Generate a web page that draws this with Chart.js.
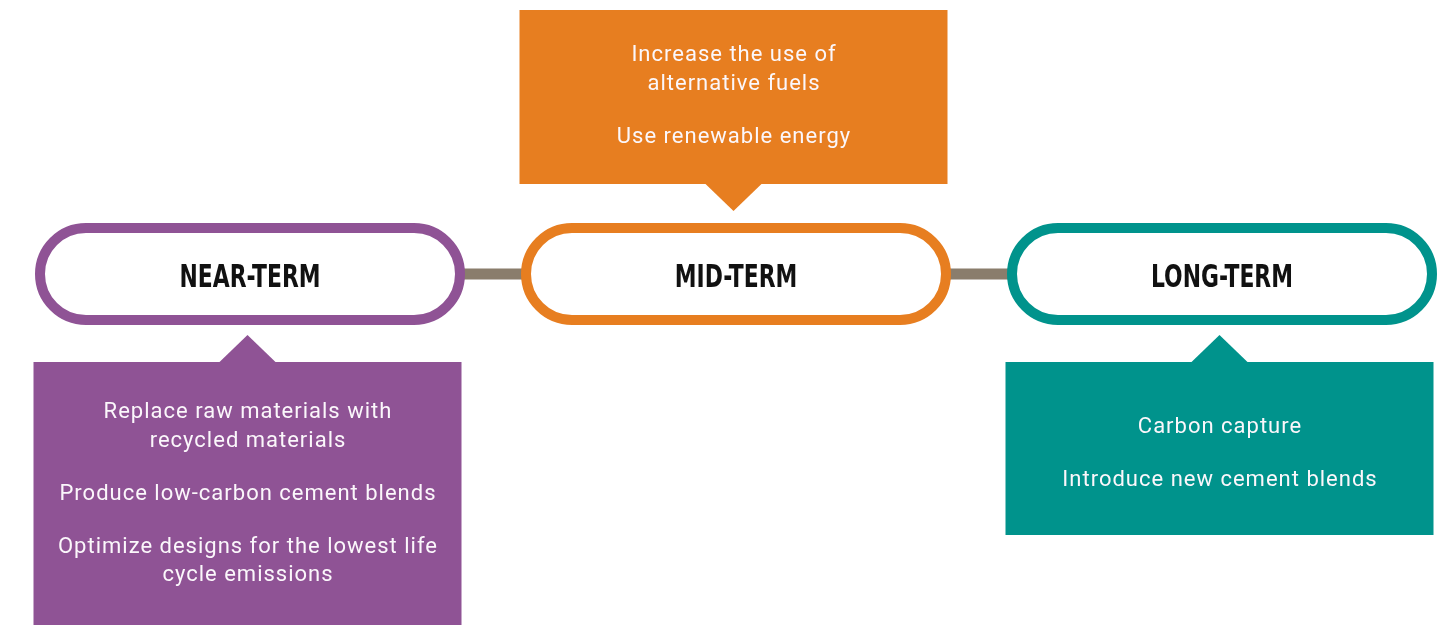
<!DOCTYPE html>
<html>
<head>
<meta charset="utf-8">
<title>Cement decarbonisation timeline</title>
<script src="https://cdn.jsdelivr.net/npm/chart.js@4/dist/chart.umd.min.js"></script>
<style>
  html, body { margin: 0; padding: 0; background: #ffffff; }
  #wrap { width: 1451px; height: 625px; position: relative; }
</style>
</head>
<body>
<div id="wrap"><canvas id="chart"></canvas></div>
<script>
// stages along the timeline
var stages = ['NEAR-TERM', 'MID-TERM', 'LONG-TERM'];
var stagePositions = [0, 1, 2];
var stageColors = ['#8f5395', '#e77e20', '#00938c'];

// actions per stage: paragraphs, each a list of lines
var nearTermActions = [
  ['Replace raw materials with', 'recycled materials'],
  ['Produce low-carbon cement blends'],
  ['Optimize designs for the lowest life', 'cycle emissions']
];
var midTermActions = [
  ['Increase the use of', 'alternative fuels'],
  ['Use renewable energy']
];
var longTermActions = [
  ['Carbon capture'],
  ['Introduce new cement blends']
];
var stageActions = [nearTermActions, midTermActions, longTermActions];
var boxSides = ['below', 'above', 'below'];

// layout (pixels)
var connectorColor = '#8a7d6c';
var pillW = 430, pillH = 102, pillStroke = 10;
var boxW = 428, arrowLen = 27, arrowHalf = 28;
var boxGapBelow = 88, boxGapAbove = 90;
var boxHeights = [268, 174, 173];
var textTops = [56, 51, 71];
var lineStep = 28.5, paraStep = 53;
var labelSqueeze = 0.76;

var timelinePlugin = {
  id: 'timeline',
  afterDatasetsDraw: function (chart) {
    var ctx = chart.ctx;
    var xs = chart.scales.x;
    var ys = chart.scales.y;
    var cy = ys.getPixelForValue(0);

    stages.forEach(function (label, i) {
      var cx = xs.getPixelForValue(stagePositions[i]);
      var color = stageColors[i];

      // pill
      ctx.save();
      ctx.beginPath();
      var h = pillH - pillStroke;
      ctx.roundRect(cx - pillW / 2 + pillStroke / 2, cy - h / 2, pillW - pillStroke, h, h / 2);
      ctx.fillStyle = '#ffffff';
      ctx.fill();
      ctx.lineWidth = pillStroke;
      ctx.strokeStyle = color;
      ctx.stroke();

      // stage label, condensed
      ctx.font = 'bold 32px "Liberation Sans Narrow", "DejaVu Sans Condensed", sans-serif';
      ctx.fillStyle = '#111111';
      ctx.textAlign = 'center';
      ctx.textBaseline = 'alphabetic';
      ctx.translate(cx, cy + 12.5);
      ctx.scale(labelSqueeze, 1);
      ctx.fillText(label, 0, 0);
      ctx.restore();

      // action box with pointer
      var bx = cx - 2.5;
      var bh = boxHeights[i];
      var top, apexY, baseY;
      if (boxSides[i] === 'below') {
        top = cy + boxGapBelow;
        baseY = top;
        apexY = top - arrowLen;
      } else {
        top = cy - boxGapAbove - bh;
        baseY = top + bh;
        apexY = baseY + arrowLen;
      }
      ctx.save();
      ctx.fillStyle = color;
      ctx.fillRect(bx - boxW / 2, top, boxW, bh);
      ctx.beginPath();
      ctx.moveTo(bx - arrowHalf, baseY);
      ctx.lineTo(bx, apexY);
      ctx.lineTo(bx + arrowHalf, baseY);
      ctx.closePath();
      ctx.fill();

      ctx.font = '22px Roboto, "Noto Sans", sans-serif';
      ctx.letterSpacing = '1px';
      ctx.fillStyle = '#fbf7fb';
      ctx.textAlign = 'center';
      ctx.textBaseline = 'alphabetic';
      var yy = top + textTops[i];
      stageActions[i].forEach(function (para, p) {
        para.forEach(function (line, l) {
          if (l > 0) yy += lineStep;
          else if (p > 0) yy += paraStep;
          ctx.fillText(line, bx + 0.5, yy);
        });
      });
      ctx.restore();
    });
  }
};

new Chart(document.getElementById('chart'), {
  type: 'line',
  data: {
    datasets: [{
      label: 'timeline',
      data: stagePositions.map(function (p) { return { x: p, y: 0 }; }),
      borderColor: connectorColor,
      borderWidth: 11,
      pointRadius: 0,
      fill: false
    }]
  },
  options: {
    responsive: true,
    maintainAspectRatio: false,
    animation: false,
    layout: { padding: 0 },
    scales: {
      x: { type: 'linear', min: -250 / 486, max: 1201 / 486, display: false },
      y: { type: 'linear', min: -274, max: 351, reverse: true, display: false }
    },
    plugins: {
      legend: { display: false },
      tooltip: { enabled: false }
    },
    events: []
  },
  plugins: [timelinePlugin]
});
</script>
</body>
</html>
